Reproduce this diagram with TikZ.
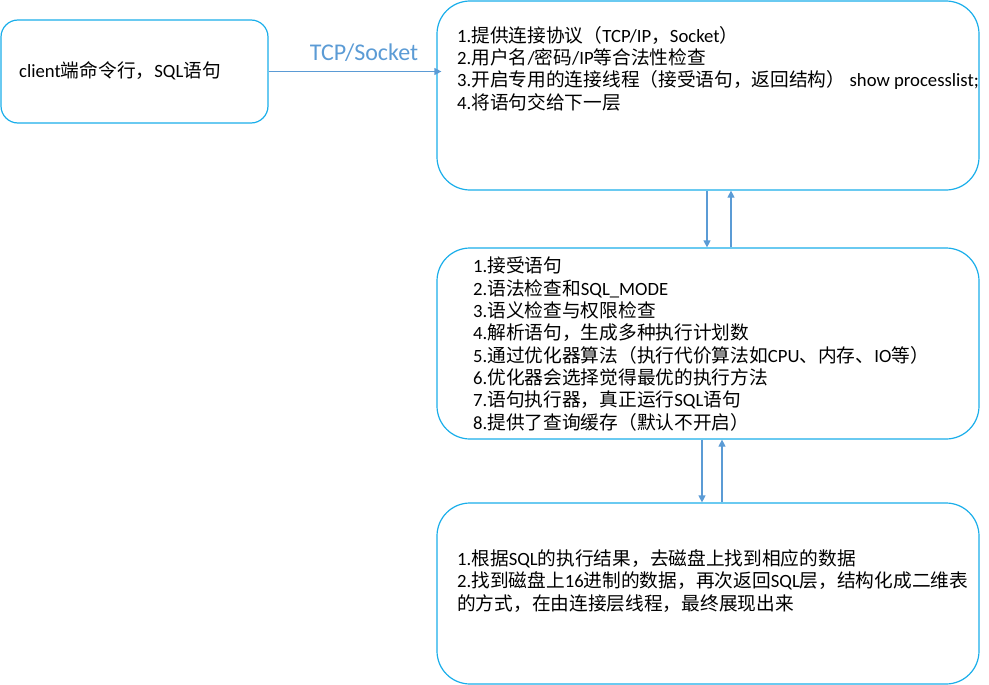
\documentclass[tikz,border=0pt]{standalone}
\usepackage{fontspec}
\setmainfont{Carlito}
\newfontfamily\cjkfont{Noto Sans CJK SC}
\newfontfamily\latfont{Carlito}
\usetikzlibrary{arrows.meta}

\definecolor{boxblue}{HTML}{1AAEEA}
\definecolor{linkblue}{HTML}{5B9BD5}

% switch to the CJK font for Chinese characters and back for Latin ones
\newXeTeXintercharclass\cjkcls
\newcount\cjkcode
\def\setcjkrange#1#2{\cjkcode=#1\relax
  \loop \XeTeXcharclass\cjkcode=\cjkcls
  \ifnum\cjkcode<#2\relax \advance\cjkcode by 1 \repeat}
\setcjkrange{"3000}{"303F}
\setcjkrange{"4E00}{"9FFF}
\setcjkrange{"FF00}{"FFEF}
\XeTeXinterchartoks 0 \cjkcls = {\cjkfont}
\XeTeXinterchartoks 4095 \cjkcls = {\cjkfont}
\XeTeXinterchartoks \cjkcls 0 = {\latfont}
\XeTeXinterchartoks \cjkcls 4095 = {\latfont}
\XeTeXinterchartoks 4095 0 = {\latfont}
\XeTeXinterchartokenstate=1

\begin{document}
\begin{tikzpicture}[x=1pt, y=-1pt, >={Triangle[length=7pt,width=7pt]},
    font=\fontsize{18.7}{22.3}\selectfont,
    layer/.style={draw=boxblue, line width=1.2pt, rounded corners=33pt,
                  minimum width=542pt},
    txt/.style={align=left, anchor=west, inner sep=0pt},
    link/.style={->, draw=linkblue, line width=1.2pt}]
  \useasboundingbox (0,0) rectangle (989,685);
  % boxes
  \node[layer, rounded corners=17pt, minimum width=267pt,
        minimum height=103pt] (client) at (134.5,71.5) {};
  \node[layer, minimum height=189pt] (conn)  at (708,95.5)  {};
  \node[layer, minimum height=191pt] (parse) at (708,343.5) {};
  \node[layer, minimum height=181pt] (store) at (708,593.5) {};
  % texts
  \node[txt] (clienttxt) at (19,71) {client端命令行，SQL语句};
  \node[font=\fontsize{24}{28}\selectfont, text=linkblue] (proto)
        at (364,53) {TCP/Socket};
  \node[txt] (conntxt) at (457,68.5)
        {1.提供连接协议（TCP/IP，Socket）\\
         2.用户名/密码/IP等合法性检查\\
         3.开启专用的连接线程（接受语句，返回结构） show processlist;\\
         4.将语句交给下一层};
  \node[txt] (parsetxt) at (473,344)
        {1.接受语句\\
         2.语法检查和SQL\_MODE\\
         3.语义检查与权限检查\\
         4.解析语句，生成多种执行计划数\\
         5.通过优化器算法（执行代价算法如CPU、内存、IO等）\\
         6.优化器会选择觉得最优的执行方法\\
         7.语句执行器，真正运行SQL语句\\
         8.提供了查询缓存（默认不开启）};
  \node[txt] (storetxt) at (457,581)
        {1.根据SQL的执行结果，去磁盘上找到相应的数据\\
         2.找到磁盘上16进制的数据，再次返回SQL层，结构化成二维表\\
         的方式，在由连接层线程，最终展现出来};
  % connectors
  \draw[link, shorten >=-5pt] (client.east) -- (client.east -| conn.west);
  \draw[link] ([xshift=-1pt]conn.south)  -- ([xshift=-1pt]parse.north);
  \draw[link] ([xshift=23pt]parse.north) -- ([xshift=23pt]conn.south);
  \draw[link] ([xshift=-6pt]parse.south) -- ([xshift=-6pt]store.north);
  \draw[link] ([xshift=14pt]store.north) -- ([xshift=14pt]parse.south);
\end{tikzpicture}
\end{document}
